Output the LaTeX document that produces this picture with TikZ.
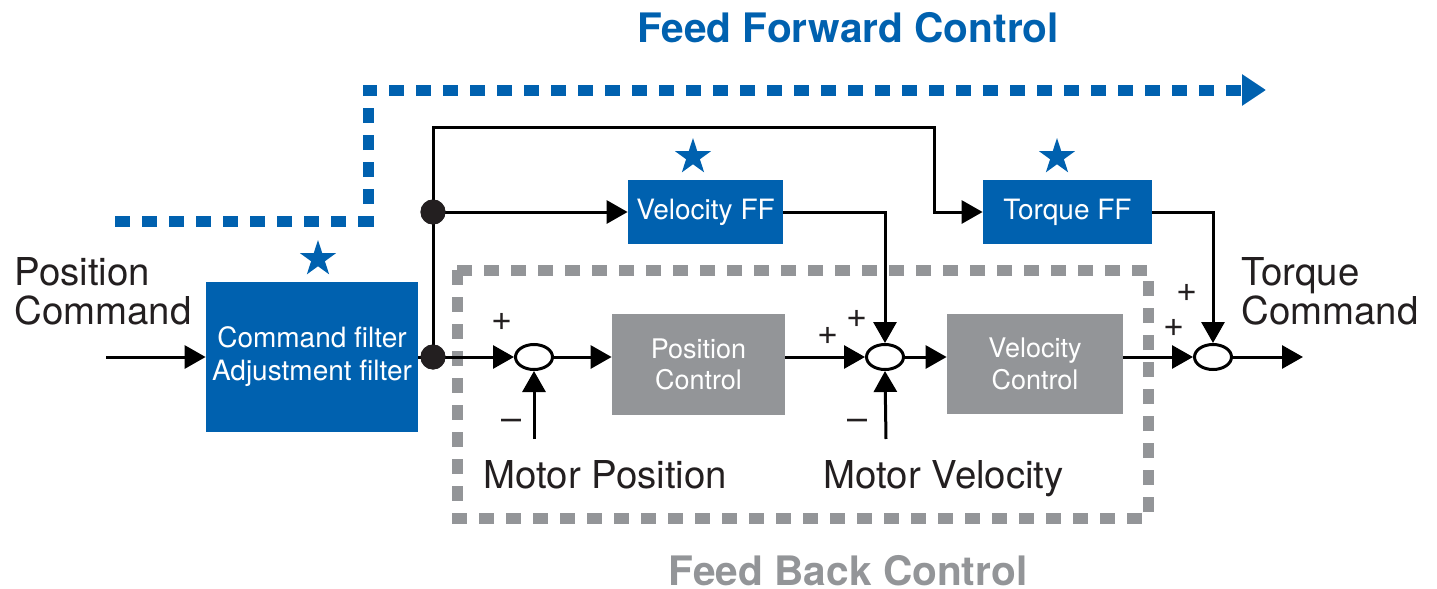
\documentclass[tikz,border=0pt]{standalone}
\usepackage{fontspec}
\setmainfont{TeX Gyre Heros}
\usetikzlibrary{arrows.meta,shapes.geometric}
\definecolor{ffblue}{HTML}{0061AF}
\definecolor{fbgray}{HTML}{939598}
\definecolor{ink}{HTML}{231F20}
\begin{document}
\begin{tikzpicture}[x=0.5pt,y=-0.5pt,
  wire/.style={line width=1.5pt, draw=black},
  arr/.style={wire, -{Triangle[length=10.5pt,width=11.5pt]}},
  bluebox/.style={fill=ffblue, text=white, inner sep=0pt, font=\fontsize{14pt}{16.5pt}\selectfont, align=center},
  graybox/.style={fill=fbgray, text=white, inner sep=0pt, font=\fontsize{13.5pt}{15.75pt}\selectfont, align=center},
  sumnode/.style={ellipse, draw=black, line width=1.5pt, fill=white, minimum width=18.5pt, minimum height=12.5pt, inner sep=0pt},
  dotnode/.style={circle, fill=ink, minimum size=12.5pt, inner sep=0pt},
  starnode/.style={star, star points=5, star point ratio=2.618, fill=ffblue, minimum size=19pt, inner sep=0pt},
  biglabel/.style={text=ink, inner sep=0pt, font=\fontsize{19.2pt}{20pt}\selectfont},
  sign/.style={text=ink, inner sep=0pt, font=\fontsize{18pt}{18pt}\selectfont},
  titletext/.style={inner sep=0pt, font=\fontsize{20.3pt}{21pt}\selectfont\bfseries},
  ffpath/.style={draw=ffblue, line width=5.5pt, dash pattern=on 7.5pt off 6pt, -{Triangle[length=12pt,width=15pt]}},
  fbframe/.style={draw=fbgray, line width=5.5pt, dash pattern=on 7.5pt off 6pt},
]
\useasboundingbox (0,0) rectangle (1437,589);

% feedback frame and feed-forward path
\draw[fbframe] (457,270) rectangle (1148,518);
\coordinate (ffstart) at (115,221);
\coordinate (ffend) at (1266,90);
\draw[ffpath] (ffstart) -- (368,221) -- (368,90) -- (ffend);

% titles
\node[titletext, text=ffblue, anchor=base] (fftitle) at (848,42) {Feed Forward Control};
\node[titletext, text=fbgray, anchor=base] (fbtitle) at (848,585) {Feed Back Control};

% blocks
\node[bluebox, minimum width=106pt, minimum height=75pt] (cf) at (312,357) {Command filter\\Adjustment filter};
\node[bluebox, minimum width=77.5pt, minimum height=32pt] (vff) at (705.5,212) {Velocity FF};
\node[bluebox, minimum width=84.5pt, minimum height=32pt] (tff) at (1067.5,212) {Torque FF};
\node[graybox, minimum width=86.5pt, minimum height=50.5pt] (pc) at (698.5,364.5) {Position\\Control};
\node[graybox, minimum width=88pt, minimum height=50pt] (vc) at (1035,364) {Velocity\\Control};

% stars
\node[starnode] (st1) at (318,259) {};
\node[starnode] (st2) at (693,157) {};
\node[starnode] (st3) at (1057,157) {};

% summing points and junctions
\node[sumnode] (s1) at (534,357) {};
\node[sumnode] (s2) at (885,357) {};
\node[sumnode] (s3) at (1213,357) {};
\node[dotnode] (j1) at (433,212) {};
\node[dotnode] (j2) at (433,357) {};

% free ends
\coordinate (in) at (106,357);
\coordinate (out) at (1303,357);
\coordinate (mp) at (534,439);
\coordinate (mv) at (886,439);
\coordinate (tl) at (433,127);
\coordinate (tr) at (934,127);

% connectors
\draw[arr] (in) -- (cf.west);
\draw[wire] (cf.east) -- (j2.center);
\draw[arr] (j2.center) -- (s1.west);
\draw[wire] (j2.center) -- (j1.center);
\draw[arr] (j1.center) -- (vff.west);
\draw[arr] (j1.center) -- (tl) -- (tr) |- (tff.west);
\draw[arr] (vff.east) -| (s2.north);
\draw[arr] (tff.east) -| (s3.north);
\draw[arr] (s1.east) -- (s1.east -| pc.west);
\draw[arr] (pc.east |- s2.west) -- (s2.west);
\draw[arr] (s2.east) -- (s2.east -| vc.west);
\draw[arr] (vc.east |- s3.west) -- (s3.west);
\draw[arr] (s3.east) -- (out);
\draw[arr] (mp) -- (s1.south);
\draw[arr] (mv) -- (s2.south);
\node[dotnode] at (j1) {};
\node[dotnode] at (j2) {};

% labels
\node[biglabel, anchor=base west] (pos1) at (14,285) {Position};
\node[biglabel, anchor=base west] (pos2) at (14,324) {Command};
\node[biglabel, anchor=base west] (tq1) at (1241,285) {Torque};
\node[biglabel, anchor=base west] (tq2) at (1241,324) {Command};
\node[biglabel, anchor=base west] (mpl) at (483,488) {Motor Position};
\node[biglabel, anchor=base west] (mvl) at (823,488) {Motor Velocity};

% signs
\node[sign] (p1) at (502,322) {+};
\node[sign] (m1) at (512,425) {–};
\node[sign] (p2) at (828,336) {+};
\node[sign] (p3) at (857,319) {+};
\node[sign] (m2) at (858,425) {–};
\node[sign] (p4) at (1187,293) {+};
\node[sign] (p5) at (1174,328) {+};
\end{tikzpicture}
\end{document}
